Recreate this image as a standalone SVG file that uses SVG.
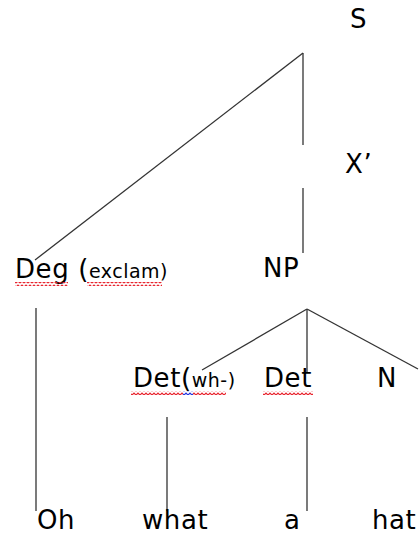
<svg xmlns="http://www.w3.org/2000/svg" width="420" height="536" viewBox="0 0 420 536">
<style>
.t{font-family:"DejaVu Sans","Verdana",sans-serif;font-size:26px;fill:#000;letter-spacing:0.6px}
.s{font-size:19px;letter-spacing:0.5px}
.e{stroke:#333;stroke-width:1.3;fill:none}
.sq{stroke:#e8202a;stroke-width:1.2;fill:none}
.sqb{stroke:#2030e0;stroke-width:1.2;fill:none}
</style>
<defs>
<pattern id="wv" width="4" height="4" patternUnits="userSpaceOnUse"><path d="M0,3 L2,1 L4,3" class="sq"/></pattern>
<pattern id="wvb" width="4" height="4" patternUnits="userSpaceOnUse"><path d="M0,3 L2,1 L4,3" class="sqb"/></pattern>
</defs>
<rect width="420" height="536" fill="#fff"/>
<g id="connectors">
<line class="e" x1="303" y1="53" x2="35" y2="260"/>
<line class="e" x1="303" y1="53" x2="303" y2="145"/>
<line class="e" x1="303" y1="188" x2="303" y2="253"/>
<line class="e" x1="307" y1="309" x2="202" y2="370"/>
<line class="e" x1="307" y1="309" x2="307" y2="372"/>
<line class="e" x1="307" y1="309" x2="418" y2="369"/>
<line class="e" x1="36" y1="308" x2="36" y2="511"/>
<line class="e" x1="167" y1="417" x2="167" y2="511"/>
<line class="e" x1="307" y1="417" x2="307" y2="511"/>
</g>
<g id="node-S"><text class="t" x="350" y="28">S</text></g>
<g id="node-Xbar"><text class="t" x="345" y="173">X’</text></g>
<g id="node-Deg">
<text class="t" x="15" y="278">Deg (<tspan class="s">exclam)</tspan></text>
<rect x="15" y="282" width="53" height="4" fill="url(#wv)"/>
<rect x="87" y="282" width="75" height="4" fill="url(#wv)"/>
</g>
<g id="node-NP"><text class="t" x="263" y="277">NP</text></g>
<g id="node-Detwh">
<text class="t" x="133" y="387">Det(<tspan class="s">wh-)</tspan></text>
<rect x="131" y="391" width="52" height="4" fill="url(#wv)"/>
<rect x="183" y="391" width="10" height="4" fill="url(#wvb)"/>
<rect x="193" y="391" width="33" height="4" fill="url(#wv)"/>
</g>
<g id="node-Det">
<text class="t" x="264" y="387">Det</text>
<rect x="263" y="391" width="50" height="4" fill="url(#wv)"/>
</g>
<g id="node-N"><text class="t" x="377" y="387">N</text></g>
<g id="node-Oh"><text class="t" x="37" y="529">Oh</text></g>
<g id="node-what"><text class="t" x="142" y="529">what</text></g>
<g id="node-a"><text class="t" x="284" y="529">a</text></g>
<g id="node-hat"><text class="t" x="372" y="529">hat</text></g>
</svg>
